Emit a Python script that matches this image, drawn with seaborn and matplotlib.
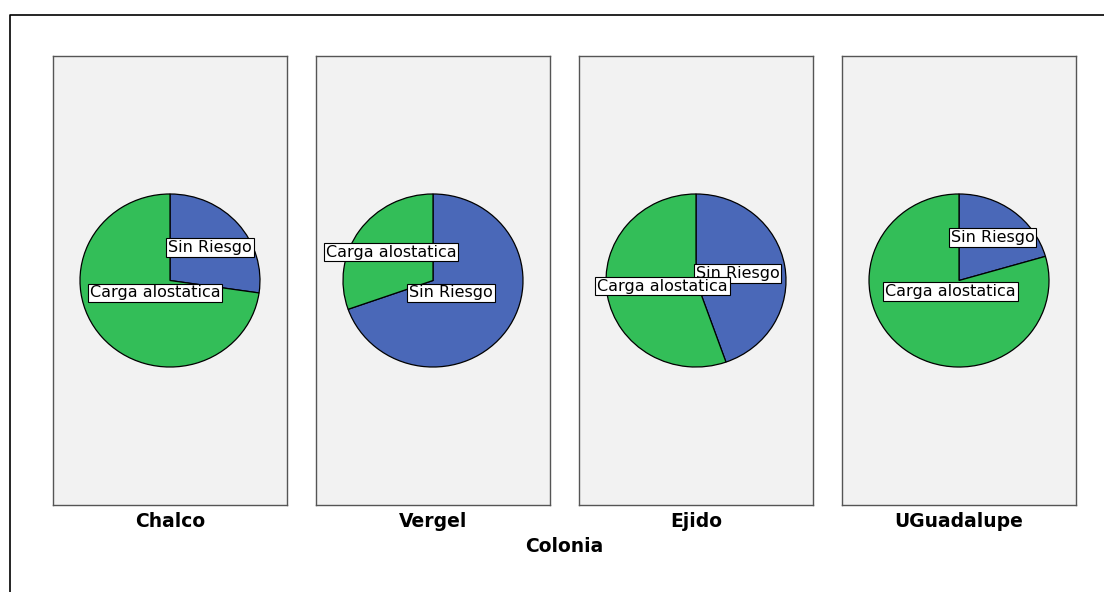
import numpy as np
import pandas as pd
import matplotlib
matplotlib.use("Agg")
import matplotlib.pyplot as plt
from matplotlib.lines import Line2D
import seaborn as sns

# Share of each risk group per neighbourhood (%)
colonias = ["Chalco", "Vergel", "Ejido", "UGuadalupe"]
categorias = ["Sin Riesgo", "Carga alostatica"]
sin_riesgo = [27.3, 69.6, 44.6, 20.5]
carga_alostatica = [72.7, 30.4, 55.4, 79.5]

df = pd.DataFrame({
    "Colonia": np.repeat(colonias, 2),
    "Riesgo": categorias * len(colonias),
    "Porcentaje": [v for pair in zip(sin_riesgo, carga_alostatica) for v in pair],
})

sns.set_style("white")
plt.rcParams["font.family"] = ["DejaVu Sans"]
plt.rcParams["text.color"] = "black"
palette = dict(zip(categorias, ["#4a68b8", "#33be58"]))


def draw_pie(data, **kwargs):
    ax = plt.gca()
    d = data.set_index("Riesgo").loc[categorias]
    wedges, _ = ax.pie(
        d["Porcentaje"],
        colors=[palette[c] for c in categorias],
        startangle=90,
        counterclock=False,
        wedgeprops=dict(edgecolor="black", linewidth=0.9),
    )
    # label each slice at its centroid
    for w, name in zip(wedges, categorias):
        half = np.deg2rad(abs(w.theta2 - w.theta1)) / 2
        mid = np.deg2rad((w.theta1 + w.theta2) / 2)
        dist = 2 * np.sin(half) / (3 * half) * w.r
        ax.text(dist * np.cos(mid), dist * np.sin(mid), name,
                ha="center", va="center", fontsize=11.5, color="black",
                bbox=dict(boxstyle="square,pad=0.12", fc="white",
                          ec="black", lw=0.8))


g = sns.FacetGrid(df, col="Colonia", col_order=colonias, height=5,
                  aspect=0.5, despine=False)
g.map_dataframe(draw_pie)
g.set_titles("")

fig = g.figure
fig.set_size_inches(11.04, 5.92)
fig.subplots_adjust(left=53 / 1104, right=1076 / 1104,
                    bottom=1 - 505 / 592, top=1 - 56 / 592, wspace=0.124)

for ax, name in zip(g.axes.flat, colonias):
    ax.set_aspect("auto")
    ax.set_xlim(-1.3, 1.3)
    ax.set_ylim(-2.595, 2.595)
    ax.set_facecolor("#f2f2f2")
    ax.set_frame_on(True)
    for sp in ax.spines.values():
        sp.set_visible(True)
        sp.set_color("#555555")
        sp.set_linewidth(1.0)
    ax.set_xticks([])
    ax.set_yticks([])
    ax.set_xlabel("")
    ax.set_ylabel("")
    ax.text(0.5, -0.016, name, transform=ax.transAxes, ha="center",
            va="top", fontsize=13.5, fontweight="bold", color="black")

fig.text(564.5 / 1104, 1 - 547 / 592, "Colonia", ha="center", va="center",
         fontsize=13.5, fontweight="bold", color="black")

# outer frame (left and top edges)
fx = 9.5 / 1104
fy = 1 - 14.5 / 592
fig.add_artist(Line2D([fx, fx, 1.0], [0.0, fy, fy], transform=fig.transFigure,
                      color="black", linewidth=1.2))

fig.savefig("out.png", dpi=100)
